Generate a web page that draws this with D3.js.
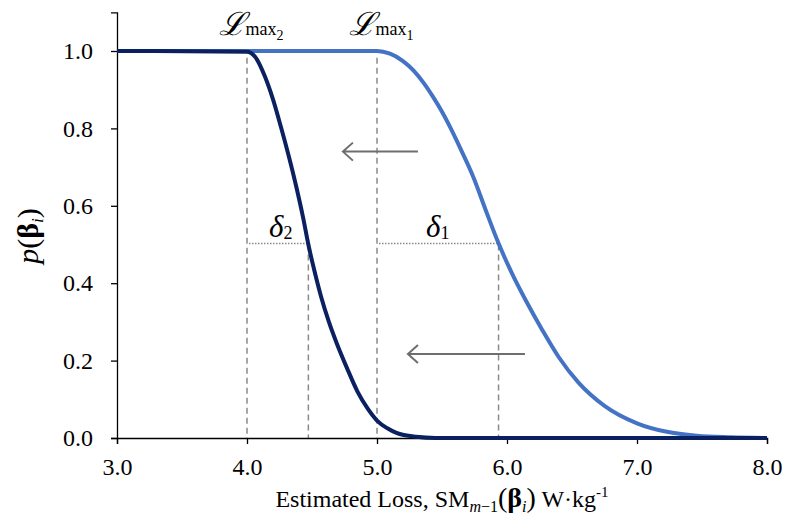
<!DOCTYPE html>
<html>
<head>
<meta charset="utf-8">
<script src="https://cdn.jsdelivr.net/npm/d3@7"></script>
<style>
  body { margin: 0; background: #fff; }
  svg { display: block; }
  .axis text { font-family: "Liberation Serif", "Times New Roman", Times, serif; font-size: 24px; fill: #000; }
  .axis path, .axis line { stroke: #000; stroke-width: 1.3; }
  .lbl { font-family: "Liberation Serif", "Times New Roman", Times, serif; fill: #000; }
</style>
</head>
<body>
<script>
// curve 1 (before) and curve 2 (after the shift)
const lossA = [3.0, 5.0, 5.1, 5.2, 5.28, 5.36, 5.43, 5.5, 5.575, 5.65, 5.74, 5.835, 5.935, 6.04, 6.15, 6.27, 6.4, 6.55, 6.75, 7.0, 7.23, 7.46, 7.72, 8.0];
const probA = [1.0, 1.0, 0.993, 0.974, 0.95, 0.917, 0.882, 0.843, 0.795, 0.742, 0.675, 0.59, 0.503, 0.424, 0.352, 0.28, 0.208, 0.143, 0.083, 0.038, 0.016, 0.006, 0.002, 0.0];
const lossB = [3.0, 3.998, 4.062, 4.138, 4.2, 4.26, 4.32, 4.38, 4.43, 4.472, 4.52, 4.57, 4.63, 4.69, 4.77, 4.85, 4.93, 5.0, 5.08, 5.15, 5.3, 5.45, 8.0];
const probB = [1.0, 0.998, 0.985, 0.934, 0.875, 0.805, 0.73, 0.648, 0.572, 0.5, 0.43, 0.365, 0.3, 0.245, 0.18, 0.12, 0.075, 0.045, 0.025, 0.013, 0.003, 0.0, 0.0];

const xTicks = [3, 4, 5, 6, 7, 8];
const yTicks = [0, 0.2, 0.4, 0.6, 0.8, 1.0];

// annotations (data units)
const lmaxX = [5.0, 4.0];          // L_max1, L_max2
const deltaEnd = [5.935, 4.472];   // where p = 0.5
const arrowFrom = [5.315, 6.138];
const arrowTo = [4.738, 5.238];
const arrowP = [0.74, 0.217];

const width = 787;
const height = 524;

const svg = d3.select("body")
  .append("svg")
  .attr("width", width)
  .attr("height", height);

const x = d3.scaleLinear().domain([3, 8]).range([117, 767]);
const y = d3.scaleLinear().domain([0, 1.1]).range([438, 12.3]);

// dashed verticals at L_max and at the p = 0.5 crossings
const gray = "#8a8a8a";
lmaxX.forEach(v => {
  svg.append("line")
    .attr("x1", x(v)).attr("x2", x(v))
    .attr("y1", y(0.99) + 3).attr("y2", y(0))
    .attr("stroke", gray).attr("stroke-width", 1.5)
    .attr("stroke-dasharray", "6,4");
});
deltaEnd.forEach(v => {
  svg.append("line")
    .attr("x1", x(v)).attr("x2", x(v))
    .attr("y1", y(0.5)).attr("y2", y(0))
    .attr("stroke", gray).attr("stroke-width", 1.5)
    .attr("stroke-dasharray", "6,4");
});
// dotted horizontals (delta)
lmaxX.forEach((v, i) => {
  svg.append("line")
    .attr("x1", x(v) + 2).attr("x2", x(deltaEnd[i]))
    .attr("y1", y(0.5) - 1).attr("y2", y(0.5) - 1)
    .attr("stroke", gray).attr("stroke-width", 1.5)
    .attr("stroke-dasharray", "1.5,1.5");
});

// arrows
arrowFrom.forEach((v, i) => {
  const x0 = x(arrowTo[i]), x1 = x(v), yy = y(arrowP[i]);
  svg.append("path")
    .attr("d", `M${x1},${yy}L${x0},${yy}M${x0 + 10},${yy - 9}L${x0},${yy}L${x0 + 10},${yy + 9}`)
    .attr("fill", "none")
    .attr("stroke", "#6e6e6e")
    .attr("stroke-width", 2);
});

// axes
svg.append("g")
  .attr("class", "axis")
  .attr("transform", "translate(0," + y(0) + ")")
  .call(d3.axisBottom(x).tickValues(xTicks).tickFormat(d3.format(".1f")).tickSizeOuter(0).tickSize(6).tickPadding(14));

svg.append("g")
  .attr("class", "axis")
  .attr("transform", "translate(" + x(3) + ",0)")
  .call(d3.axisLeft(y).tickValues(yTicks).tickFormat(d3.format(".1f")).tickSizeOuter(0).tickSize(6).tickPadding(18));

svg.selectAll(".axis").attr("font-family", null).attr("font-size", null);

// curves
const line = d3.line()
  .x(d => x(d[0]))
  .y(d => y(d[1]))
  .curve(d3.curveMonotoneX);

svg.append("path")
  .datum(d3.zip(lossA, probA))
  .attr("d", line)
  .attr("fill", "none")
  .attr("stroke", "#4472c4")
  .attr("stroke-width", 4)
  .attr("stroke-linejoin", "round");

svg.append("path")
  .datum(d3.zip(lossB, probB))
  .attr("d", line)
  .attr("fill", "none")
  .attr("stroke", "#0b2060")
  .attr("stroke-width", 4)
  .attr("stroke-linejoin", "round");

// L_max labels
["1", "2"].forEach((s, i) => {
  const t = svg.append("text")
    .attr("class", "lbl")
    .attr("x", x(lmaxX[i]) + 4)
    .attr("y", 35)
    .attr("text-anchor", "middle");
  t.append("tspan").text("ℒ")
    .style("font-family", "'DejaVu Serif', serif")
    .style("font-style", "italic")
    .style("font-size", "32px");
  t.append("tspan").text("max").style("font-size", "18px");
  t.append("tspan").text(s).style("font-size", "14px").attr("dy", 5);
});

// delta labels
["1", "2"].forEach((s, i) => {
  const cx = (x(lmaxX[i]) + x(deltaEnd[i])) / 2;
  const t = svg.append("text")
    .attr("class", "lbl")
    .attr("x", cx + (i === 0 ? 0 : 3))
    .attr("y", y(0.5) - 8)
    .attr("text-anchor", "middle");
  t.append("tspan").text("δ").style("font-style", "italic").style("font-size", "31px");
  t.append("tspan").text(s).style("font-size", "18px").attr("dy", 2);
});

// y title
const yt = svg.append("text")
  .attr("class", "lbl")
  .attr("transform", "translate(38,236) rotate(-90)")
  .attr("text-anchor", "middle")
  .style("font-size", "30px");
yt.append("tspan").text("p").style("font-style", "italic");
yt.append("tspan").text("(");
yt.append("tspan").text("β").style("font-weight", "bold");
yt.append("tspan").text("i").style("font-style", "italic").style("font-size", "17px").attr("dy", 5);
yt.append("tspan").text(")").attr("dy", -5);

// x title
const xt = svg.append("text")
  .attr("class", "lbl")
  .attr("x", 442)
  .attr("y", 507)
  .attr("text-anchor", "middle")
  .style("font-size", "24px");
xt.append("tspan").text("Estimated Loss, SM");
xt.append("tspan").text("m").style("font-style", "italic").style("font-size", "16px").attr("dy", 5);
xt.append("tspan").text("−1").style("font-size", "16px");
xt.append("tspan").text("(").style("font-size", "28px").attr("dy", -5);
xt.append("tspan").text("β").style("font-weight", "bold").style("font-size", "28px");
xt.append("tspan").text("i").style("font-style", "italic").style("font-size", "16px").attr("dy", 5);
xt.append("tspan").text(")").style("font-size", "28px").attr("dy", -5);
xt.append("tspan").text(" W·kg");
xt.append("tspan").text("-1").style("font-size", "15px").attr("dy", -10);
</script>
</body>
</html>
